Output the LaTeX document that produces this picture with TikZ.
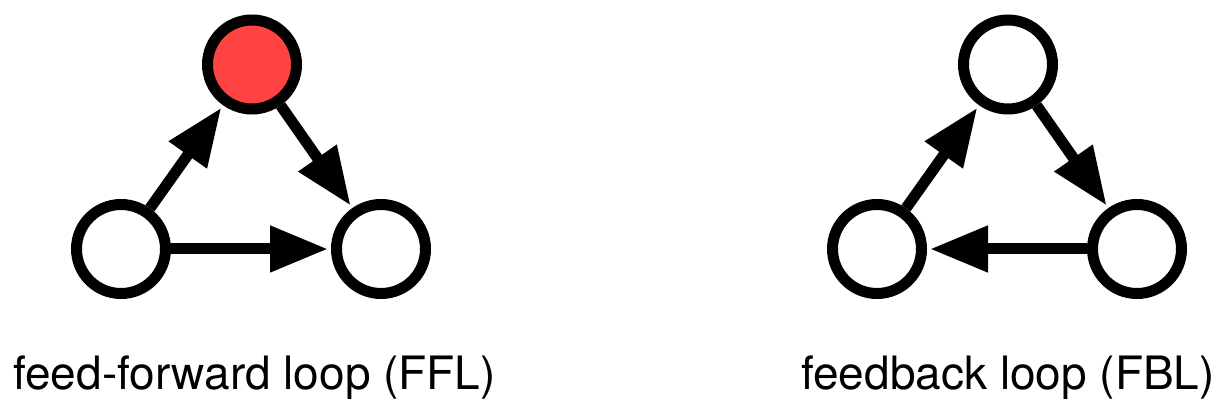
\documentclass[tikz,border=0pt]{standalone}
\usepackage{fontspec}
\setmainfont{TeX Gyre Heros}
\usetikzlibrary{arrows.meta}
\definecolor{nodered}{HTML}{FF4242}
\begin{document}
\begin{tikzpicture}[x=1pt,y=-1pt,
  vnode/.style={circle,draw=black,line width=11pt,minimum size=89pt,inner sep=0pt,fill=white},
  arr/.style={line width=11pt,-{Triangle[length=58pt,width=44pt]},shorten >=3pt},
  lab/.style={anchor=base,inner sep=0pt,font=\fontsize{46}{55}\selectfont}]
\useasboundingbox (0,0) rectangle (1227,411);
% FFL
\node[vnode,fill=nodered] (ft) at (252,64.5) {};
\node[vnode] (fl) at (121,249) {};
\node[vnode] (fr) at (381,249) {};
\draw[arr] (fl) -- (ft);
\draw[arr] (ft) -- (fr);
\draw[arr] (fl) -- (fr);
\node[lab] (flab) at (254.5,390) {feed-forward loop (FFL)};
% FBL
\node[vnode] (bt) at (1008,64.5) {};
\node[vnode] (bl) at (877,249) {};
\node[vnode] (br) at (1137,249) {};
\draw[arr] (bl) -- (bt);
\draw[arr] (bt) -- (br);
\draw[arr] (br) -- (bl);
\node[lab] (blab) at (1008,390) {feedback loop (FBL)};
\end{tikzpicture}
\end{document}
